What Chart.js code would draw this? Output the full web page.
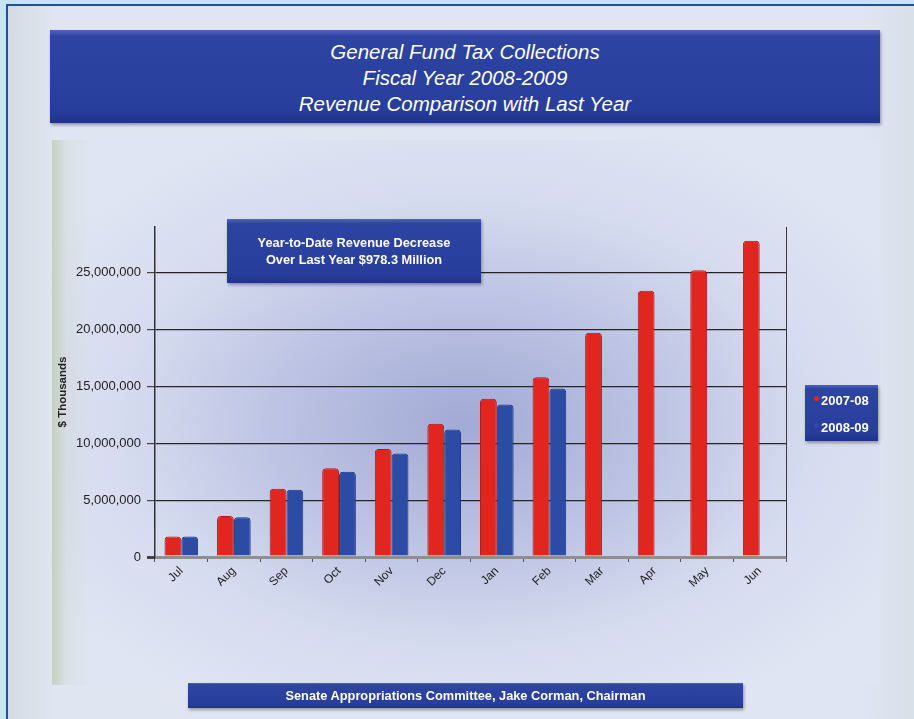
<!DOCTYPE html>
<html>
<head>
<meta charset="utf-8">
<script src="https://cdn.jsdelivr.net/npm/chart.js@4"></script>
<style>
  body { margin: 0; width: 914px; height: 719px; overflow: hidden; background: #c6e4f6; font-family: "Liberation Sans", Arial, sans-serif; }
  .frame { position: absolute; left: 6px; top: 4px; width: 910px; height: 720px; border: 2px solid #1f4f9c; box-sizing: border-box;
    background: linear-gradient(to right, #d3dbe3 0%, #dfe5f1 5%, #dfe5f2 94%, #d8e0ea 100%); }
  .blue { position: absolute; color: #fff; text-align: center; box-sizing: border-box;
    background: linear-gradient(#5064ba 0%, #2e44a3 7%, #283e9d 85%, #1f3389 100%);
    box-shadow: 1px 2px 3px rgba(0,0,0,0.35); }
  #title { left: 50px; top: 30px; width: 830px; height: 93px; font-style: italic; font-size: 20.5px; line-height: 26px; padding-top: 9px; }
  #panel { position: absolute; left: 52px; top: 140px; width: 828px; height: 545px;
    background:
      linear-gradient(to right, rgba(178,192,150,0.55) 0px, rgba(200,210,190,0.25) 14px, rgba(220,226,240,0) 40px),
      radial-gradient(ellipse 60% 60% at 50% 52%, #a2aad5 0%, #bac1e2 35%, #d6dcef 70%, #dfe5f2 100%); }
  #panel canvas { position: absolute; left: 0; top: 0; }
  #note { left: 227px; top: 219px; width: 254px; height: 64px; font-weight: bold; font-size: 12.8px; line-height: 17px; padding-top: 15px; }
  #legend { left: 805px; top: 385px; width: 73px; height: 56px; font-weight: bold; font-size: 13px; text-align: left; padding: 8px 0 0 9px; }
  #legend div { height: 27px; position: relative; padding-left: 7px; }
  #legend span { position: absolute; left: 0; top: 3px; width: 5px; height: 5px; border-radius: 50%; }
  #footer { left: 188px; top: 683px; width: 555px; height: 25px; font-weight: bold; font-size: 12.8px; line-height: 25px; }
</style>
</head>
<body>
<div class="frame"></div>
<div id="title" class="blue">General Fund Tax Collections<br>Fiscal Year 2008-2009<br>Revenue Comparison with Last Year</div>
<div id="panel"><canvas id="graph" width="828" height="545"></canvas></div>
<div id="note" class="blue">Year-to-Date Revenue Decrease<br>Over Last Year $978.3 Million</div>
<div id="legend" class="blue"></div>
<div id="footer" class="blue">Senate Appropriations Committee, Jake Corman, Chairman</div>
<script>
const months = ['Jul', 'Aug', 'Sep', 'Oct', 'Nov', 'Dec', 'Jan', 'Feb', 'Mar', 'Apr', 'May', 'Jun'];
const seriesLabels = ['2007-08', '2008-09'];
const seriesColors = ['#e1261f', '#2c4ba5'];
const seriesBorders = ['#b3161a', '#1c3580'];
// $ thousands, cumulative
const fy0708 = [1800000, 3600000, 6000000, 7800000, 9500000, 11700000, 13900000, 15800000, 19700000, 23400000, 25200000, 27800000];
const fy0809 = [1800000, 3500000, 5900000, 7500000, 9100000, 11200000, 13400000, 14800000, null, null, null, null];
const yTicks = [0, 5000000, 10000000, 15000000, 20000000, 25000000];

let ctx = document.getElementById('graph').getContext('2d');

// legend box
const legendBox = document.getElementById('legend');
seriesLabels.forEach((label, i) => {
  const row = document.createElement('div');
  row.innerHTML = '<span style="background:' + seriesColors[i] + '"></span>' + label;
  legendBox.appendChild(row);
});

const wallPlugin = {
  id: 'wall',
  afterDatasetsDraw(chart) {
    const a = chart.chartArea;
    const c = chart.ctx;
    c.save();
    c.strokeStyle = '#3a3a3a';
    c.lineWidth = 1;
    c.beginPath();
    c.moveTo(a.right + 0.5, a.top);
    c.lineTo(a.right + 0.5, a.bottom);
    c.stroke();
    c.restore();
  }
};

new Chart(ctx, {
  type: 'bar',
  data: {
    labels: months,
    datasets: [fy0708, fy0809].map((values, i) => ({
      label: seriesLabels[i],
      data: values,
      backgroundColor: seriesColors[i],
      borderColor: seriesBorders[i],
      borderWidth: 1,
      borderRadius: { topLeft: 4, topRight: 4 },
      borderSkipped: 'bottom',
      categoryPercentage: 0.64,
      barPercentage: 1.0
    }))
  },
  options: {
    responsive: false,
    animation: false,
    layout: { padding: { left: 0, right: 94, top: 87, bottom: 0 } },
    plugins: { legend: { display: false }, tooltip: { enabled: false } },
    scales: {
      x: {
        grid: { drawOnChartArea: false, drawTicks: true, tickLength: 5, color: '#555', offset: true },
        border: { display: false },
        ticks: { color: '#222', font: { family: 'Liberation Sans', size: 12 }, maxRotation: 45, minRotation: 45, padding: 2 },
        afterFit: (scale) => { scale.height = 128; }
      },
      y: {
        min: 0,
        max: 29000000,
        afterBuildTicks: (scale) => { scale.ticks = yTicks.map(v => ({ value: v })); },
        ticks: {
          color: '#222',
          font: { family: 'Liberation Sans', size: 13 },
          padding: 6,
          callback: (v) => v.toLocaleString('en-US')
        },
        grid: {
          color: (c) => c.tick && c.tick.value === 0 ? '#8f8f8f' : '#262626',
          lineWidth: (c) => c.tick && c.tick.value === 0 ? 3 : 1.2,
          tickLength: 8,
          tickColor: '#444'
        },
        border: { display: true, color: '#333', width: 1.5 },
        title: { display: true, text: '$ Thousands', color: '#222', font: { family: 'Liberation Sans', size: 11.5, weight: 'bold' }, padding: { top: 4, bottom: 0 } },
        afterFit: (scale) => { scale.width = 103; }
      }
    }
  },
  plugins: [wallPlugin]
});
</script>
</body>
</html>
